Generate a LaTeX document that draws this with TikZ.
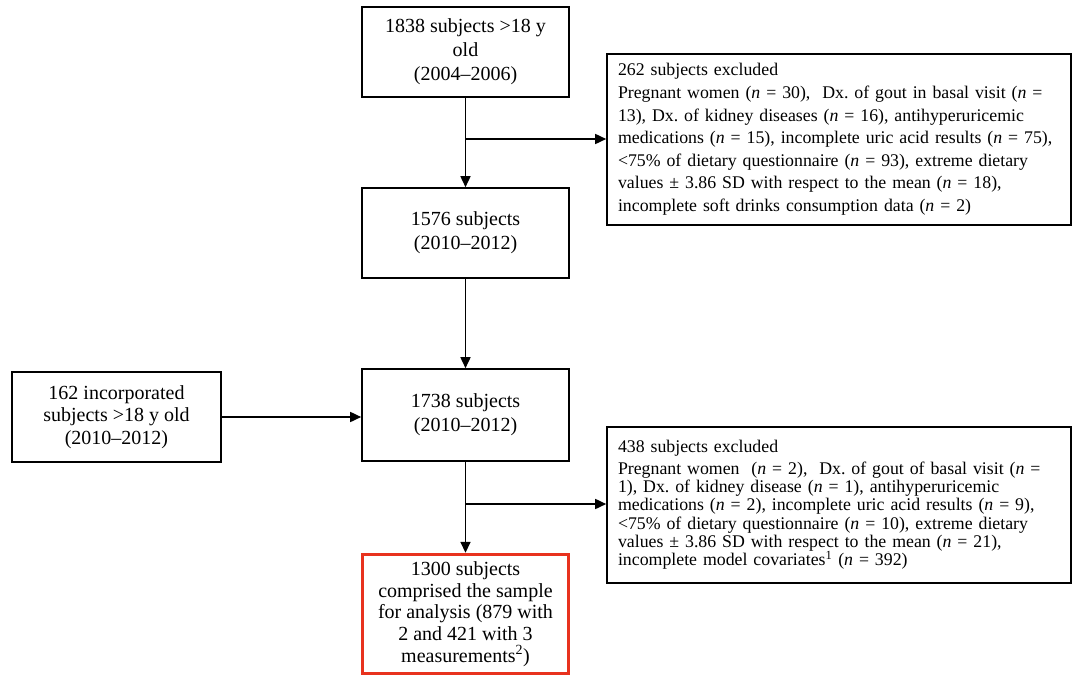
\documentclass[tikz,border=0pt]{standalone}
\usepackage{fontspec}
\setmainfont{Liberation Serif}
\usetikzlibrary{arrows.meta}
\definecolor{boxred}{RGB}{232,50,30}
\frenchspacing
\begin{document}
\begin{tikzpicture}[x=1pt,y=-1pt,
  mainbox/.style={draw=black,line width=1.6pt,minimum width=207pt,minimum height=90pt,
    align=center,inner sep=4pt,font=\fontsize{20}{24}\selectfont},
  exbox/.style={draw=black,line width=1.6pt,text width=442pt,inner xsep=11pt,inner ysep=4pt,
    align=left},
  conn/.style={line width=1.6pt,-{Triangle[length=11pt,width=10pt]}},
  line/.style={line width=1.6pt}]
\useasboundingbox (0,0) rectangle (1080,683);
\node[mainbox] (b1) at (465.5,52) {1838 subjects >18 y\\old\\(2004–2006)};
\node[mainbox] (b2) at (465.5,233) {1576 subjects\\(2010–2012)};
\node[mainbox,minimum height=92pt] (b3) at (465.5,415) {1738 subjects\\(2010–2012)};
\node[mainbox,minimum width=209pt,font=\fontsize{20}{22.5}\selectfont] (lb) at (116.5,417) {162 incorporated\\subjects >18 y old\\(2010–2012)};
\node[mainbox,draw=boxred,line width=3.4pt,minimum width=206pt,minimum height=119pt,font=\fontsize{20}{21.8}\selectfont] (b4) at (465.5,614) {1300 subjects\\comprised the sample\\for analysis (879 with\\2 and 421 with 3\\measurements\textsuperscript{2})};
\node[exbox,minimum height=171pt,font=\fontsize{17.8}{22.6}\selectfont] (ex1) at (839,139.5) {262 subjects excluded\\
Pregnant women (\textit{n} = 30),~ Dx. of gout in basal visit (\textit{n} =\\
13), Dx. of kidney diseases (\textit{n} = 16), antihyperuricemic\\
medications (\textit{n} = 15), incomplete uric acid results (\textit{n} = 75),\\
<75\% of dietary questionnaire (\textit{n} = 93), extreme dietary\\
values ± 3.86 SD with respect to the mean (\textit{n} = 18),\\
incomplete soft drinks consumption data (\textit{n} = 2)};
\node[exbox,minimum height=156pt,font=\fontsize{17.8}{18.3}\selectfont] (ex2) at (839,505) {438 subjects excluded\\[3pt]
Pregnant women~ (\textit{n} = 2),~ Dx. of gout of basal visit (\textit{n} =\\
1), Dx. of kidney disease (\textit{n} = 1), antihyperuricemic\\
medications (\textit{n} = 2), incomplete uric acid results (\textit{n} = 9),\\
<75\% of dietary questionnaire (\textit{n} = 10), extreme dietary\\
values ± 3.86 SD with respect to the mean (\textit{n} = 21),\\
incomplete model covariates\textsuperscript{1} (\textit{n} = 392)};
\coordinate (j1) at (465.5,139);
\coordinate (j2) at (465.5,504);
\draw[conn] (b1.south) -- (b2.north);
\draw[conn] (j1) -- (j1 -| ex1.west);
\draw[conn] (b2.south) -- (b3.north);
\draw[conn] (lb.east) -- (lb.east -| b3.west);
\draw[conn] (b3.south) -- (b4.north);
\draw[conn] (j2) -- (j2 -| ex2.west);
\end{tikzpicture}
\end{document}
